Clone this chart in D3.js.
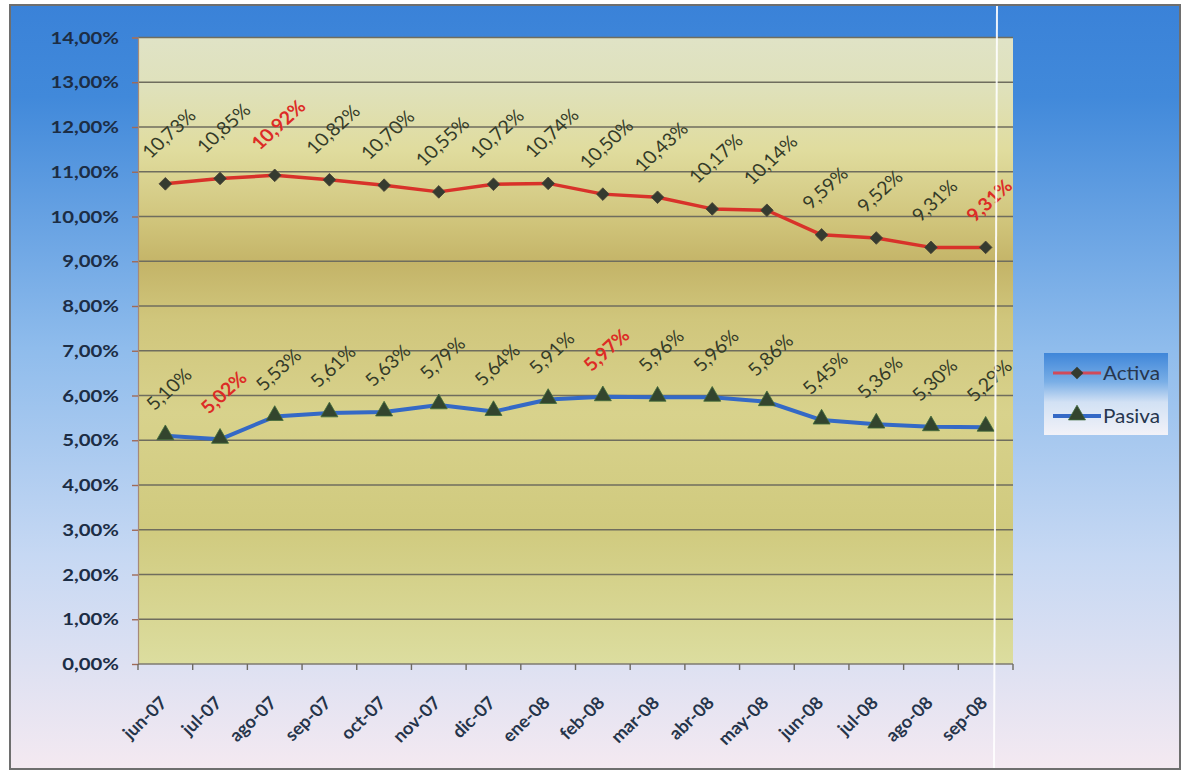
<!DOCTYPE html>
<html>
<head>
<meta charset="utf-8">
<script src="https://cdn.jsdelivr.net/npm/d3@7"></script>
<style>
  html, body { margin: 0; padding: 0; background: #ffffff; }
  svg { display: block; }
  text { font-family: Lato, "Open Sans", "DejaVu Sans", sans-serif; }
</style>
</head>
<body>
<svg id="chart" width="1183" height="774"></svg>
<script>
// Monthly rates, jun-07 .. sep-08
const months = ["jun-07","jul-07","ago-07","sep-07","oct-07","nov-07","dic-07","ene-08",
                "feb-08","mar-08","abr-08","may-08","jun-08","jul-08","ago-08","sep-08"];
const activa = [10.73, 10.85, 10.92, 10.82, 10.70, 10.55, 10.72, 10.74,
                10.50, 10.43, 10.17, 10.14, 9.59, 9.52, 9.31, 9.31];
const pasiva = [5.10, 5.02, 5.53, 5.61, 5.63, 5.79, 5.64, 5.91,
                5.97, 5.96, 5.96, 5.86, 5.45, 5.36, 5.30, 5.29];
// Months whose value label is emphasised in red
const activaHighlight = ["ago-07", "sep-08"];
const pasivaHighlight = ["jul-07", "feb-08"];
const yTicks = [0,1,2,3,4,5,6,7,8,9,10,11,12,13,14];
const seriesNames = ["Activa", "Pasiva"];

// Text is drawn slightly wide (horizontal stretch of the lettering)
const stretch = 1.12;

const svg = d3.select("#chart");
const defs = svg.append("defs");

const locale = d3.formatLocale({decimal: ",", thousands: ".", grouping: [3], currency: ["", "%"]});
const fmt = v => locale.format(".2f")(v) + "%";

// ---- Frame background
const bg = defs.append("linearGradient").attr("id", "bgGrad")
  .attr("x1", 0).attr("y1", 0).attr("x2", 0).attr("y2", 1);
[[0, "#3a82d8"], [0.12, "#4189da"], [0.45, "#8fbcec"], [0.72, "#c6d8f3"], [1, "#f4e9f1"]]
  .forEach(([o, c]) => bg.append("stop").attr("offset", o).attr("stop-color", c));

const plotGrad = defs.append("linearGradient").attr("id", "plotGrad")
  .attr("x1", 0).attr("y1", 0).attr("x2", 0).attr("y2", 1);
[[0, "#e0e3c6"], [0.08, "#dfe1bb"], [0.18, "#e0dc9e"], [0.3, "#cfc379"], [0.36, "#c4b468"],
 [0.45, "#d0c67c"], [0.6, "#d8d28c"], [0.78, "#d0ca7e"], [1, "#dcdd9f"]]
  .forEach(([o, c]) => plotGrad.append("stop").attr("offset", o).attr("stop-color", c));

const legGrad = defs.append("linearGradient").attr("id", "legGrad")
  .attr("x1", 0).attr("y1", 0).attr("x2", 0).attr("y2", 1);
[[0, "#3f86d9"], [0.35, "#79aee6"], [0.6, "#d2e1f4"], [1, "#f2f2f8"]]
  .forEach(([o, c]) => legGrad.append("stop").attr("offset", o).attr("stop-color", c));

svg.append("rect").attr("x", 10).attr("y", 5).attr("width", 1170).attr("height", 764)
  .attr("fill", "url(#bgGrad)").attr("stroke", "#6e6e6e").attr("stroke-width", 2);

// ---- Plot area
const plot = {left: 138, right: 1013, top: 37.5, bottom: 664};

const x = d3.scaleBand().domain(months).range([plot.left, plot.right]);
const xc = m => x(m) + x.bandwidth() / 2;
const y = d3.scaleLinear().domain([0, 14]).range([plot.bottom, plot.top]);

svg.append("rect")
  .attr("x", plot.left).attr("y", plot.top)
  .attr("width", plot.right - plot.left).attr("height", plot.bottom - plot.top)
  .attr("fill", "url(#plotGrad)");

// Gridlines
svg.append("g").selectAll("line").data(yTicks.filter(t => t > 0)).join("line")
  .attr("x1", plot.left).attr("x2", plot.right)
  .attr("y1", d => y(d)).attr("y2", d => y(d))
  .attr("stroke", "#6f6d5e").attr("stroke-width", 1.4);

// Y axis
const yAxis = svg.append("g").attr("transform", `translate(${plot.left},0)`)
  .call(d3.axisLeft(y).tickValues(yTicks).tickFormat(fmt).tickSize(6).tickPadding(13));
yAxis.select(".domain").attr("stroke", "#a58a78").attr("stroke-width", 1.2);
yAxis.selectAll(".tick line").attr("stroke", "#a06a58").attr("stroke-width", 1.4);
yAxis.selectAll(".tick text")
  .attr("x", 0)
  .attr("transform", `translate(-19,0) scale(${stretch + 0.04},1)`)
  .attr("fill", "#1c2d45").attr("font-size", 17.5).attr("font-weight", 700)
  .style("font-family", "Lato, sans-serif");

// X axis line and ticks at category boundaries
const xAxisG = svg.append("g");
xAxisG.append("line").attr("x1", plot.left).attr("x2", plot.right)
  .attr("y1", plot.bottom).attr("y2", plot.bottom)
  .attr("stroke", "#7e7a70").attr("stroke-width", 1.4);
const boundaries = months.map(m => x(m)).concat([x.range()[1]]);
xAxisG.selectAll("line.tk").data(boundaries).join("line").attr("class", "tk")
  .attr("x1", d => d).attr("x2", d => d)
  .attr("y1", plot.bottom).attr("y2", plot.bottom + 6)
  .attr("stroke", "#6e6a62").attr("stroke-width", 1.4);
xAxisG.selectAll("text").data(months).join("text")
  .attr("transform", d => `translate(${xc(d) + 3},${plot.bottom + 40}) scale(1.05,1) rotate(-45)`)
  .attr("text-anchor", "end")
  .attr("fill", "#25344a").attr("font-size", 17.5).attr("font-weight", 700)
  .text(d => d);

// ---- Series
const seriesA = months.map((m, i) => ({m, v: activa[i], hi: activaHighlight.includes(m)}));
const seriesP = months.map((m, i) => ({m, v: pasiva[i], hi: pasivaHighlight.includes(m)}));

const line = d3.line().x(d => xc(d.m)).y(d => y(d.v));

svg.append("path").datum(seriesA).attr("d", line)
  .attr("fill", "none").attr("stroke", "#d8322a").attr("stroke-width", 3.5)
  .attr("stroke-linejoin", "round");
svg.append("path").datum(seriesP).attr("d", line)
  .attr("fill", "none").attr("stroke", "#3469c6").attr("stroke-width", 4)
  .attr("stroke-linejoin", "round");

const square = d3.symbol().type(d3.symbolSquare).size(80);
const triangle = d3.symbol().type(d3.symbolTriangle).size(125);

svg.append("g").selectAll("path").data(seriesA).join("path")
  .attr("d", square)
  .attr("transform", d => `translate(${xc(d.m)},${y(d.v)}) rotate(45)`)
  .attr("fill", "#353b30").attr("stroke", "#4a4538").attr("stroke-width", 0.8);

svg.append("g").selectAll("path").data(seriesP).join("path")
  .attr("transform", d => `translate(${xc(d.m)},${y(d.v) - 1})`)
  .attr("d", triangle)
  .attr("fill", "#33452e").attr("stroke", "#3f6a3a").attr("stroke-width", 0.8);

// Value labels, rotated above each point
const labelSize = 18;
function addLabels(data) {
  const g = svg.append("g");
  data.forEach(d => {
    const t = g.append("text")
      .attr("text-anchor", "middle")
      .attr("dominant-baseline", "central")
      .attr("font-size", labelSize)
      .attr("font-weight", d.hi ? 700 : 400)
      .attr("fill", d.hi ? "#dd2c26" : "#343b28")
      .text(fmt(d.v));
    const L = t.node().getComputedTextLength();
    const half = (L + 0.72 * labelSize) * 0.7071 / 2;
    t.attr("transform",
      `translate(${xc(d.m) + 3},${y(d.v) - 25 - half}) scale(${stretch - 0.02},1) rotate(-45)`);
  });
}
addLabels(seriesA);
addLabels(seriesP);

// ---- Legend
const leg = svg.append("g").attr("transform", "translate(1044,353)");
leg.append("rect").attr("width", 124).attr("height", 82).attr("fill", "url(#legGrad)");
const legendItems = [
  {name: seriesNames[0], color: "#d04a5a", sym: "diamond", fill: "#353b30", cy: 20},
  {name: seriesNames[1], color: "#3469c6", sym: "triangle", fill: "#33452e", cy: 63}
];
legendItems.forEach(it => {
  leg.append("line").attr("x1", 9).attr("x2", 57).attr("y1", it.cy).attr("y2", it.cy)
    .attr("stroke", it.color).attr("stroke-width", it.sym === "diamond" ? 3 : 4);
  if (it.sym === "diamond") {
    leg.append("path").attr("d", square)
      .attr("transform", `translate(33,${it.cy}) rotate(45)`).attr("fill", it.fill);
  } else {
    leg.append("path").attr("d", triangle)
      .attr("transform", `translate(33,${it.cy - 1})`).attr("fill", it.fill)
      .attr("stroke", "#3f6a3a").attr("stroke-width", 0.8);
  }
  leg.append("text").attr("dominant-baseline", "central")
    .attr("transform", `translate(59,${it.cy}) scale(${stretch},1)`)
    .attr("font-size", 18.5).attr("fill", "#27364e").text(it.name);
});

// Thin light streak crossing the frame vertically
svg.append("line").attr("x1", 997).attr("x2", 994).attr("y1", 6).attr("y2", 768)
  .attr("stroke", "#ffffff").attr("stroke-width", 2).attr("opacity", 0.9);
</script>
</body>
</html>
